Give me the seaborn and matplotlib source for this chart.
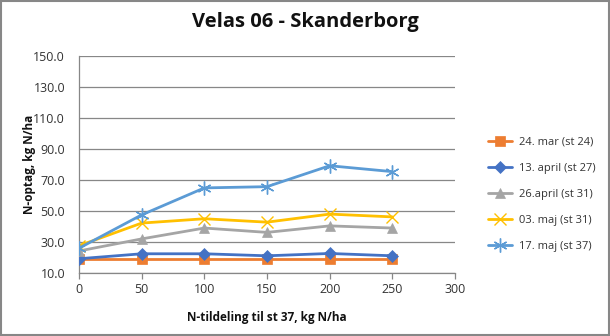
import matplotlib
matplotlib.use("Agg")
import matplotlib.pyplot as plt
import seaborn as sns
import pandas as pd
from matplotlib.patches import Rectangle

x_vals = [0, 50, 100, 150, 200, 250]
series_names = ["24. mar (st 24)", "13. april (st 27)", "26.april (st 31)", "03. maj (st 31)", "17. maj (st 37)"]
mar24 = [19.3, 19.3, 19.3, 19.3, 19.3, 19.3]
apr13 = [19.2, 22.4, 22.4, 21.1, 22.6, 21.1]
apr26 = [24.2, 32.0, 39.0, 36.2, 40.4, 39.0]
maj03 = [27.6, 42.2, 45.0, 42.8, 48.0, 46.2]
maj17 = [26.0, 47.5, 64.9, 65.7, 79.2, 75.4]
values = [mar24, apr13, apr26, maj03, maj17]
y_ticks = [10, 30, 50, 70, 90, 110, 130, 150]
x_ticks = [0, 50, 100, 150, 200, 250, 300]

colors = ["#ED7D31", "#4472C4", "#A5A5A5", "#FFC000", "#5B9BD5"]
markers = ["s", "D", "^", "x", (6, 2, 0)]
msizes = [7, 6, 7, 9, 10]

sns.set_theme(style="white")
plt.rcParams["font.family"] = ["Open Sans", "DejaVu Sans"]

fig = plt.figure(figsize=(6.1, 3.36), dpi=100)
ax = fig.add_axes([79/610, 63/336, (455-79)/610, (273-56)/336])

rows = []
for name, vals in zip(series_names, values):
    for xv, yv in zip(x_vals, vals):
        rows.append({"x": xv, "y": yv, "series": name})
df = pd.DataFrame(rows)

for i, name in enumerate(series_names):
    sub = df[df["series"] == name]
    sns.lineplot(data=sub, x="x", y="y", ax=ax, color=colors[i], marker=markers[i],
                 markersize=msizes[i], markeredgecolor=colors[i], markeredgewidth=1.0 if i >= 3 else 0.5,
                 linewidth=2.0, label=name, zorder=3 + i)

ax.set_xlim(0, 300)
ax.set_ylim(10, 150)
ax.set_xticks(x_ticks)
ax.set_yticks(y_ticks)
ax.set_yticklabels([f"{v:.1f}" for v in y_ticks])
ax.grid(axis="y", color="#878787", linewidth=0.9)
ax.set_axisbelow(True)
for s in ["top", "right"]:
    ax.spines[s].set_visible(False)
for s in ["left", "bottom"]:
    ax.spines[s].set_color("#878787")
    ax.spines[s].set_linewidth(0.9)
ax.tick_params(axis="x", bottom=True, length=4, width=0.9, color="#878787", labelsize=9, labelcolor="#333333", pad=3)
ax.tick_params(axis="y", left=False, labelsize=9, labelcolor="#333333", pad=4)

ax.set_xlabel("N-tildeling til st 37, kg N/ha", fontsize=8.5, fontweight="bold", color="#111111", labelpad=11)
ax.set_ylabel("N-optag, kg N/ha", fontsize=8.5, fontweight="bold", color="#111111", labelpad=-2)

ax.get_legend().remove()
handles, labels = ax.get_legend_handles_labels()
fig.legend(handles, labels, loc="upper left", bbox_to_anchor=(478/610, 1 - 127/336), frameon=False,
           fontsize=8, handlelength=2.2, labelspacing=1.35, handletextpad=0.6, labelcolor="#333333")

fig.text(305/610, 1 - 22/336, "Velas 06 - Skanderborg", ha="center", va="center", fontsize=14.5,
         fontweight="bold", color="#111111")

fig.patches.append(Rectangle((0.001, 0.002), 0.997, 0.995, transform=fig.transFigure, fill=False,
                             edgecolor="#878787", linewidth=1.5))

fig.savefig("out.png", dpi=100)
